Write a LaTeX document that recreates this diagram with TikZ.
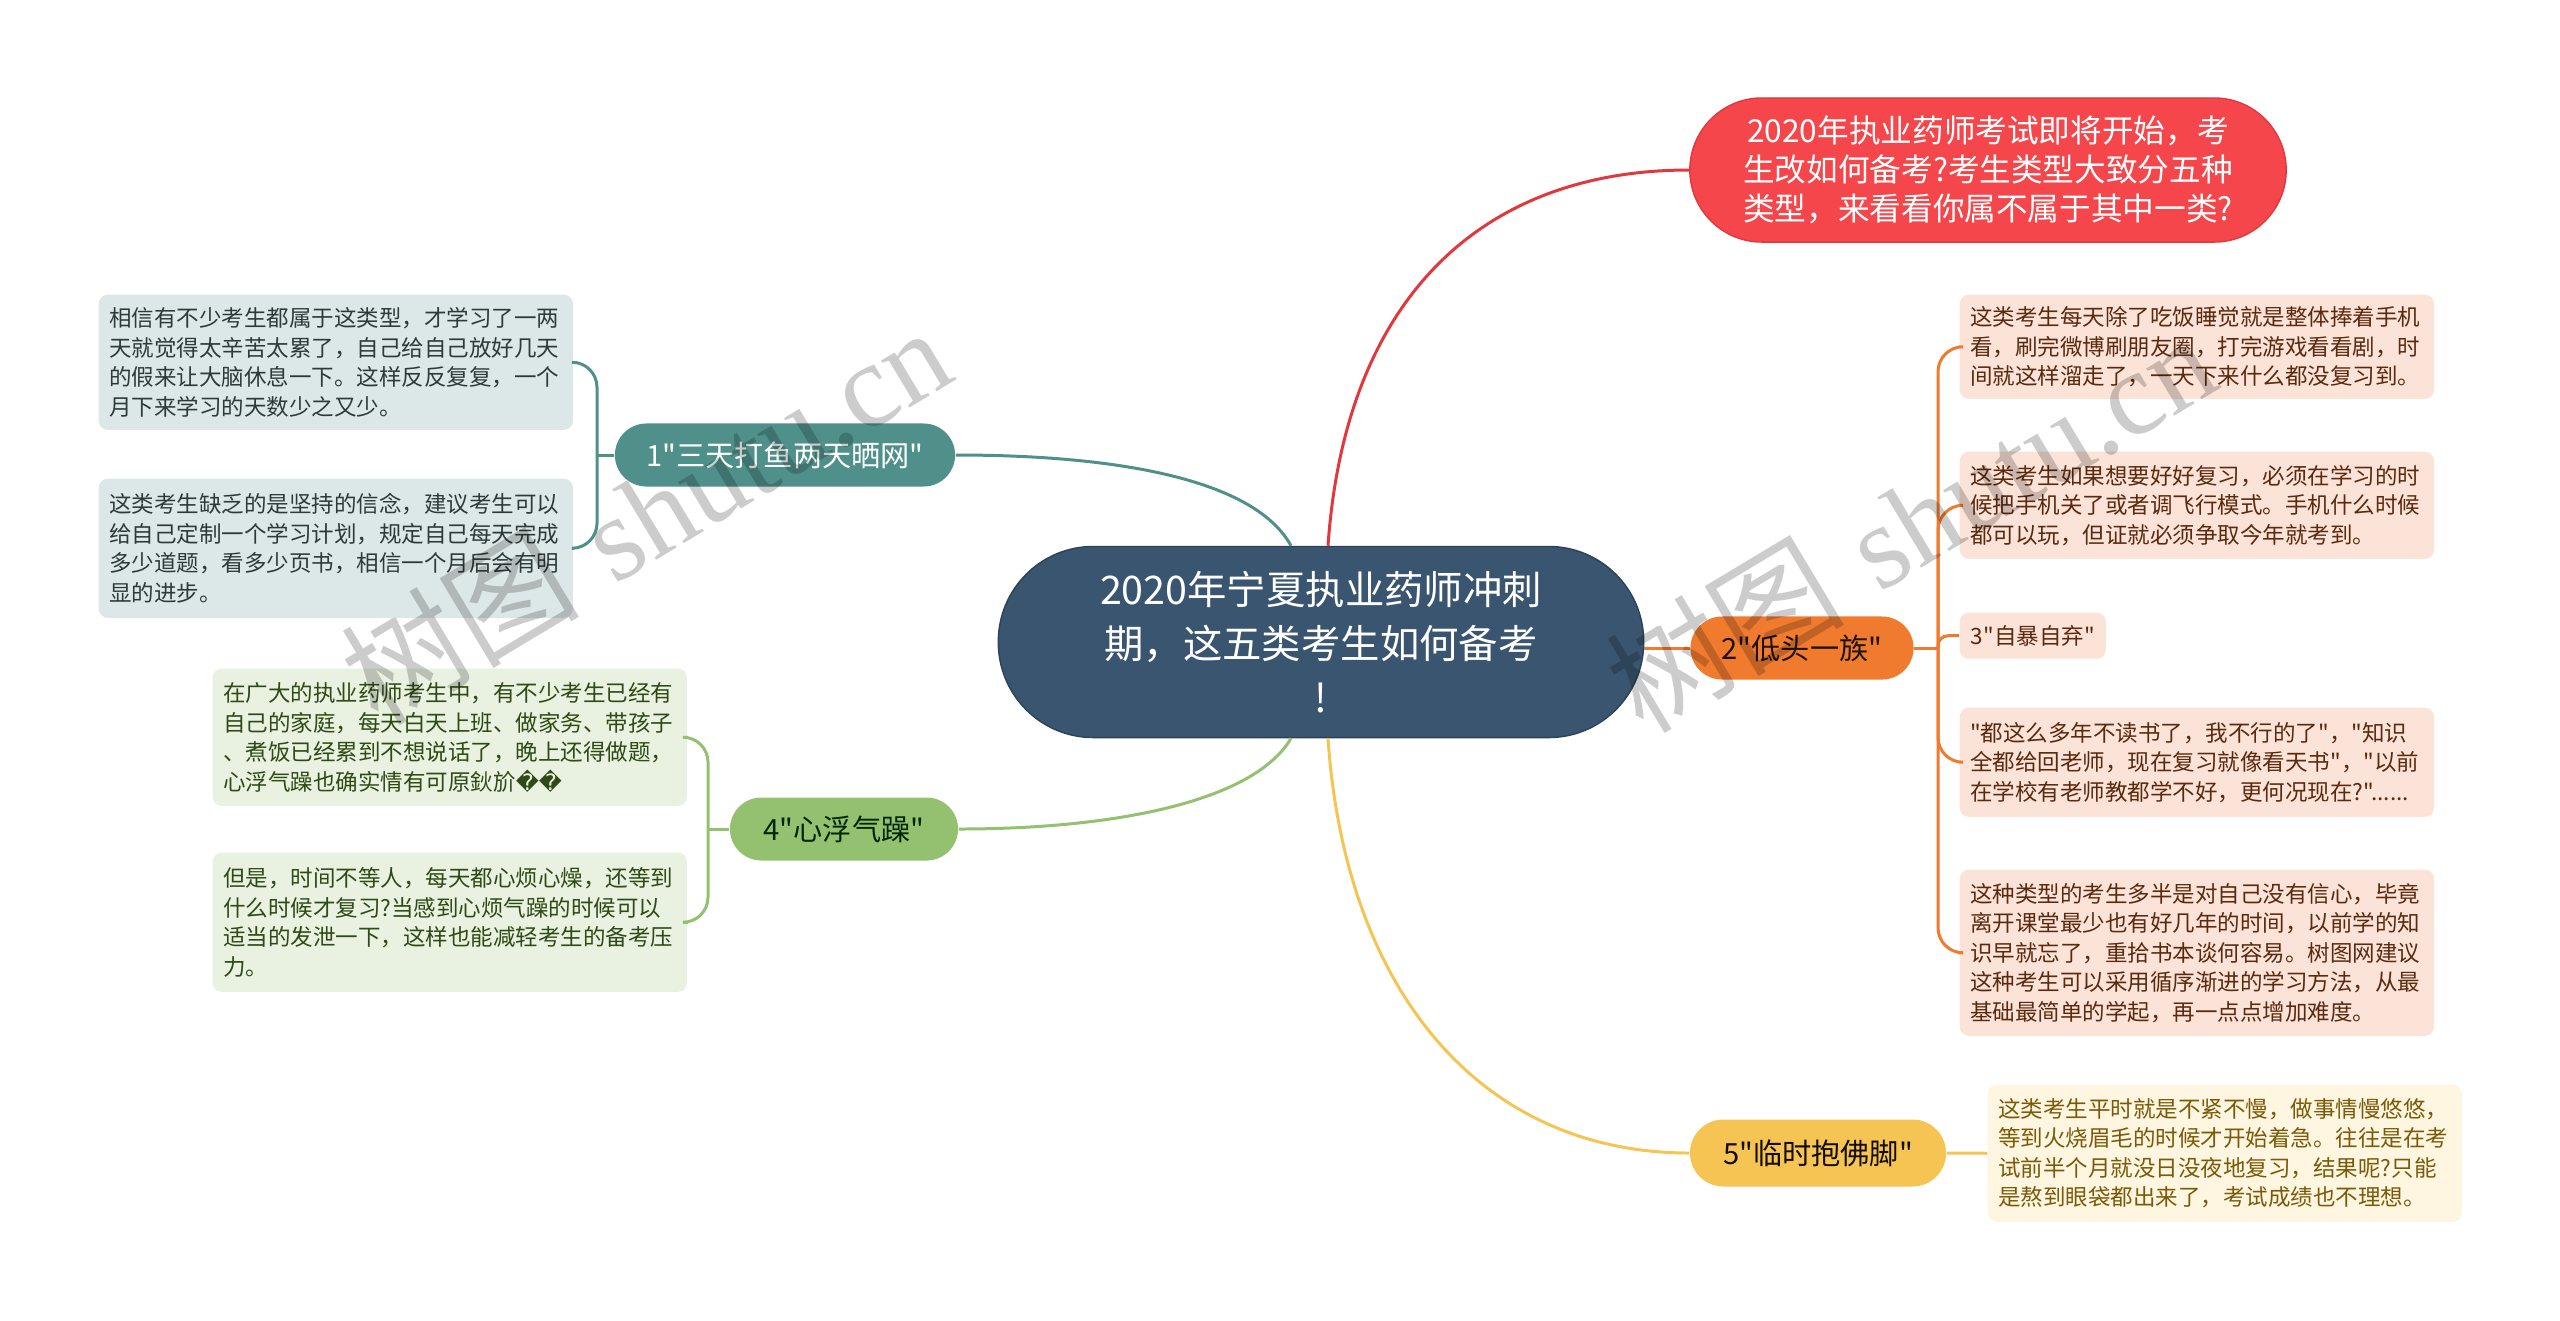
\documentclass[tikz,border=0pt]{standalone}
\usepackage{fontspec}
\newfontfamily\cjk{Noto Sans CJK SC}
\newfontfamily\repfont{DejaVu Sans}
\newfontfamily\wmfont{Liberation Serif}
\usetikzlibrary{calc}
\definecolor{cblue}{HTML}{3A5570}
\definecolor{cblued}{HTML}{2C4259}
\definecolor{cred}{HTML}{F5474B}
\definecolor{credl}{HTML}{E0383D}
\definecolor{cteal}{HTML}{4F908B}
\definecolor{ctealL}{HTML}{DCE8E7}
\definecolor{ctealT}{HTML}{2E3A3A}
\definecolor{corange}{HTML}{F07B2F}
\definecolor{corangeL}{HTML}{FCE3D7}
\definecolor{corangeT}{HTML}{5A2A10}
\definecolor{cgreen}{HTML}{94C170}
\definecolor{cgreenL}{HTML}{E9F1E1}
\definecolor{cgreenT}{HTML}{2F4A14}
\definecolor{cyellow}{HTML}{F6C453}
\definecolor{cyellowL}{HTML}{FEF6E0}
\definecolor{cyellowT}{HTML}{7A5A08}
\begin{document}
\begin{tikzpicture}[x=0.01cm,y=-0.01cm,
  hub/.style={fill=cblue, draw=cblued, line width=0.4pt, rounded corners=0.95cm,
    minimum width=6.45cm, minimum height=1.91cm, inner sep=0pt, text=white, align=center,
    font=\cjk\fontsize{11.2}{15.4}\selectfont},
  topic/.style={rounded corners=0.315cm, minimum height=0.63cm, inner sep=0pt,
    font=\cjk\fontsize{8.3}{10}\selectfont},
  leaf/.style={anchor=north west, rounded corners=0.09cm, inner xsep=0.105cm, inner ysep=0pt,
    text width=4.53cm, align=left, font=\cjk\fontsize{6.4}{8.4}\selectfont},
  link/.style={line width=0.85pt},
  brace/.style={line width=0.85pt, rounded corners=0.25cm},
  wm/.style={text=black, opacity=0.2, rotate=31, font=\fontsize{34}{34}\selectfont}
]
\useasboundingbox[fill=white] (0,0) rectangle (2560,1320);

% central and main topics
\node[hub] (c) at (1321,642) {2020年宁夏执业药师冲刺\\期，这五类考生如何备考\\!};
\node[topic, fill=cred, draw=credl, text=white, minimum width=5.96cm, minimum height=1.44cm,
  rounded corners=0.72cm, align=center, font=\cjk\fontsize{9}{11.1}\selectfont] (t0) at (1988,170)
  {2020年执业药师考试即将开始，考\\生改如何备考?考生类型大致分五种\\类型，来看看你属不属于其中一类?};
\node[topic, fill=cteal, text=white, minimum width=3.40cm] (b1) at (785,455) {1"三天打鱼两天晒网"};
\node[topic, fill=corange, text=black!85!brown, minimum width=2.23cm] (b2) at (1802,648) {2"低头一族"};
\node[topic, fill=cgreen, text=black!85!green, minimum width=2.28cm] (b4) at (844,829) {4"心浮气躁"};
\node[topic, fill=cyellow, text=black!90!brown, minimum width=2.56cm, minimum height=0.67cm,
  rounded corners=0.335cm] (b5) at (1818,1153) {5"临时抱佛脚"};

% leaves of topic 1
\node[leaf, fill=ctealL, text=ctealT, minimum height=1.35cm] (l1a) at (98,294)
  {相信有不少考生都属于这类型，才学习了一两\\天就觉得太辛苦太累了，自己给自己放好几天\\的假来让大脑休息一下。这样反反复复，一个\\月下来学习的天数少之又少。};
\node[leaf, fill=ctealL, text=ctealT, minimum height=1.39cm] (l1b) at (98,478)
  {这类考生缺乏的是坚持的信念，建议考生可以\\给自己定制一个学习计划，规定自己每天完成\\多少道题，看多少页书，相信一个月后会有明\\显的进步。};

% leaves of topic 4
\node[leaf, fill=cgreenL, text=cgreenT, minimum height=1.37cm] (l4a) at (212,668)
  {在广大的执业药师考生中，有不少考生已经有\\自己的家庭，每天白天上班、做家务、带孩子\\、煮饭已经累到不想说话了，晚上还得做题，\\心浮气躁也确实情有可原鈥斺{\repfont ��}};
\node[leaf, fill=cgreenL, text=cgreenT, minimum height=1.39cm] (l4b) at (212,852)
  {但是，时间不等人，每天都心烦心燥，还等到\\什么时候才复习?当感到心烦气躁的时候可以\\适当的发泄一下，这样也能减轻考生的备考压\\力。};

% leaves of topic 2
\node[leaf, fill=corangeL, text=corangeT, minimum height=1.04cm] (l2a) at (1959,294)
  {这类考生每天除了吃饭睡觉就是整体捧着手机\\看，刷完微博刷朋友圈，打完游戏看看剧，时\\间就这样溜走了，一天下来什么都没复习到。};
\node[leaf, fill=corangeL, text=corangeT, minimum height=1.07cm] (l2b) at (1959,451)
  {这类考生如果想要好好复习，必须在学习的时\\候把手机关了或者调飞行模式。手机什么时候\\都可以玩，但证就必须争取今年就考到。};
\node[anchor=north west, rounded corners=0.09cm, inner sep=0pt, minimum width=1.46cm,
  minimum height=0.46cm, fill=corangeL, text=corangeT, font=\cjk\fontsize{6.4}{8.4}\selectfont]
  (l2c) at (1959,612) {3"自暴自弃"};
\node[leaf, fill=corangeL, text=corangeT, minimum height=1.09cm] (l2d) at (1959,707)
  {"都这么多年不读书了，我不行的了"，"知识\\全都给回老师，现在复习就像看天书"，"以前\\在学校有老师教都学不好，更何况现在?"......};
\node[leaf, fill=corangeL, text=corangeT, minimum height=1.66cm] (l2e) at (1959,869)
  {这种类型的考生多半是对自己没有信心，毕竟\\离开课堂最少也有好几年的时间，以前学的知\\识早就忘了，重拾书本谈何容易。树图网建议\\这种考生可以采用循序渐进的学习方法，从最\\基础最简单的学起，再一点点增加难度。};

% leaf of topic 5
\node[leaf, fill=cyellowL, text=cyellowT, minimum height=1.37cm] (l5) at (1987,1084)
  {这类考生平时就是不紧不慢，做事情慢悠悠，\\等到火烧眉毛的时候才开始着急。往往是在考\\试前半个月就没日没夜地复习，结果呢?只能\\是熬到眼袋都出来了，考试成绩也不理想。};

% main connectors
\draw[link, credl] ($(c.north)+(7,0)$) .. controls (1345,300) and (1480,170) .. (t0.west);
\draw[link, cteal] ($(c.north)+(-30,0)$) .. controls (1255,480) and (1120,455) .. (b1.east);
\draw[link, cgreen] ($(c.south)+(-30,0)$) .. controls (1255,800) and (1120,829) .. (b4.east);
\draw[link, cyellow] ($(c.south)+(7,0)$) .. controls (1345,990) and (1480,1153) .. (b5.west);
\draw[link, corange] (c.east |- b2.west) -- (b2.west);

% brackets
\coordinate (j1) at (597,455);
\draw[link, cteal] (b1.west) -- (j1);
\draw[brace, cteal] (l1a.east) -| (j1) |- (l1b.east);

\coordinate (j4) at (708,829);
\draw[link, cgreen] (b4.west) -- (j4);
\draw[brace, cgreen] (l4a.east) -| (j4) |- (l4b.east);

\coordinate (j2) at (1938,648);
\draw[link, corange] (b2.east) -- (j2);
\draw[brace, corange] (l2a.west) -| (j2) |- (l2e.west);
\draw[brace, corange] (j2) |- (l2b.west);
\draw[brace, corange, rounded corners=0.1cm] (j2) |- (l2c.west);
\draw[brace, corange] (j2) |- (l2d.west);

\draw[link, cyellow] (b5.east) -- (l5.west);

% watermarks
\node[wm] (w1) at (645,514) {{\cjk 树图} {\wmfont shutu.cn}};
\node[wm] (w2) at (1910,522) {{\cjk 树图} {\wmfont shutu.cn}};
\end{tikzpicture}
\end{document}
